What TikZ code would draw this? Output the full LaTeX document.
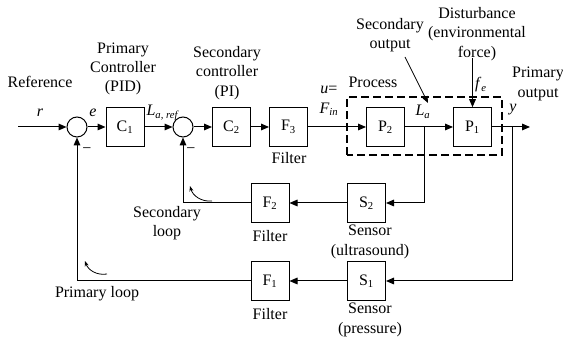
\documentclass[tikz,border=0pt]{standalone}
\usepackage{fontspec}
\setmainfont{Liberation Serif}
\usetikzlibrary{arrows.meta,positioning,calc}
\tikzset{
  every picture/.style={font=\fontsize{12}{14.5}\selectfont},
  blk/.style={draw,line width=0.75pt,minimum width=28.5pt,minimum height=29pt,inner sep=0pt},
  sumnode/.style={draw,circle,line width=0.75pt,minimum size=15pt,inner sep=0pt},
  lbl/.style={align=center,inner sep=0pt},
  wire/.style={line width=0.75pt},
  arr/.style={wire,-{Triangle[length=6pt,width=5pt]}},
  loopmark/.style={line width=0.6pt,-{Stealth[length=4pt,width=3pt]}},
}

\begin{document}
\begin{tikzpicture}[x=0.75pt,y=0.75pt]
  \useasboundingbox (0,0) rectangle (563,338);
  \coordinate (in) at (18,211);
  \node[sumnode] (s1) at (77,211) {};
  \node[blk] (C1) at (125,211) {C\textsubscript{1}};
  \node[sumnode] (s2) at (183,211) {};
  \node[blk] (C2) at (231.5,211) {C\textsubscript{2}};
  \node[blk] (F3) at (288.5,211) {F\textsubscript{3}};
  \node[blk] (P2) at (385.5,211) {P\textsubscript{2}};
  \node[blk] (P1) at (472.5,211) {P\textsubscript{1}};
  \coordinate (out) at (530,211);
  \coordinate (tap2) at (424,211);
  \coordinate (tap1) at (512,211);
  \node[blk] (S2) at (366.5,135) {S\textsubscript{2}};
  \node[blk] (F2) at (270,135) {F\textsubscript{2}};
  \node[blk] (S1) at (366.5,57) {S\textsubscript{1}};
  \node[blk] (F1) at (270,57) {F\textsubscript{1}};
  \draw[line width=1.5pt,dash pattern=on 6pt off 3pt] (347,183) rectangle (502,241);
  \foreach \a/\b in {in/s1,s1/C1,C1/s2,s2/C2,C2/F3,F3/P2,P2/P1,P1/out}
    \draw[arr] (\a) -- (\b);
  \draw[arr] (tap2) |- (S2);
  \draw[arr] (S2) -- (F2);
  \draw[arr] (F2) -| (s2);
  \draw[arr] (tap1) |- (S1);
  \draw[arr] (S1) -- (F1);
  \draw[arr] (F1) -| (s1);
  \coordinate (dist) at (472.5,280);
  \draw[arr] (dist) -- (P1);
  \coordinate (secA) at (405,281);
  \coordinate (secB) at (428,235);
  \draw[line width=0.6pt,-{Triangle[length=5pt,width=4pt]}] (secA) -- (secB);
  \coordinate (lp2a) at (212,137);
  \coordinate (lp2b) at (190,152);
  \draw[loopmark] (lp2a) to[bend left=40] (lp2b);
  \coordinate (lp1a) at (107,64);
  \coordinate (lp1b) at (85,77);
  \draw[loopmark] (lp1a) to[bend left=40] (lp1b);
  \node[lbl] (reflbl) at (40,256) {Reference};
  \node[lbl] (rlbl) at (40,225) {\textit{r}};
  \node[lbl] (elbl) at (93,225) {\textit{e}};
  \node[lbl] (pclbl) at (123,269) {Primary\\Controller\\(PID)};
  \node[lbl] (lreflbl) at (163,225) {\textit{L}\textsubscript{\textit{a, ref}}};
  \node[lbl] (sclbl) at (227,265) {Secondary\\controller\\(PI)};
  \node[lbl] (m1) at (87,187) {−};
  \node[lbl] (m2) at (191,187) {−};
  \node[lbl] (f3lbl) at (289,180) {Filter};
  \node[lbl] (ulbl) at (329,237) {\textit{u}=\\\textit{F}\textsubscript{\textit{in}}};
  \node[lbl] (proclbl) at (373,256) {Process};
  \node[lbl] (secout) at (390,303) {Secondary\\output};
  \node[lbl] (distlbl) at (477,304) {Disturbance\\(environmental\\force)};
  \node[lbl] (felbl) at (481,253) {\textit{f}\textsubscript{\textit{e}}};
  \node[lbl] (lalbl) at (423,226) {\textit{L}\textsubscript{\textit{a}}};
  \node[lbl] (poutlbl) at (538,254) {Primary\\output};
  \node[lbl] (ylbl) at (513,228) {\textit{y}};
  \node[lbl] (slooplbl) at (167,115) {Secondary\\loop};
  \node[lbl] (f2lbl) at (270,102) {Filter};
  \node[lbl] (s2lbl) at (370,96) {Sensor\\(ultrasound)};
  \node[lbl] (plooplbl) at (97,44) {Primary loop};
  \node[lbl] (f1lbl) at (270,24) {Filter};
  \node[lbl] (s1lbl) at (370,18) {Sensor\\(pressure)};
\end{tikzpicture}
\end{document}
